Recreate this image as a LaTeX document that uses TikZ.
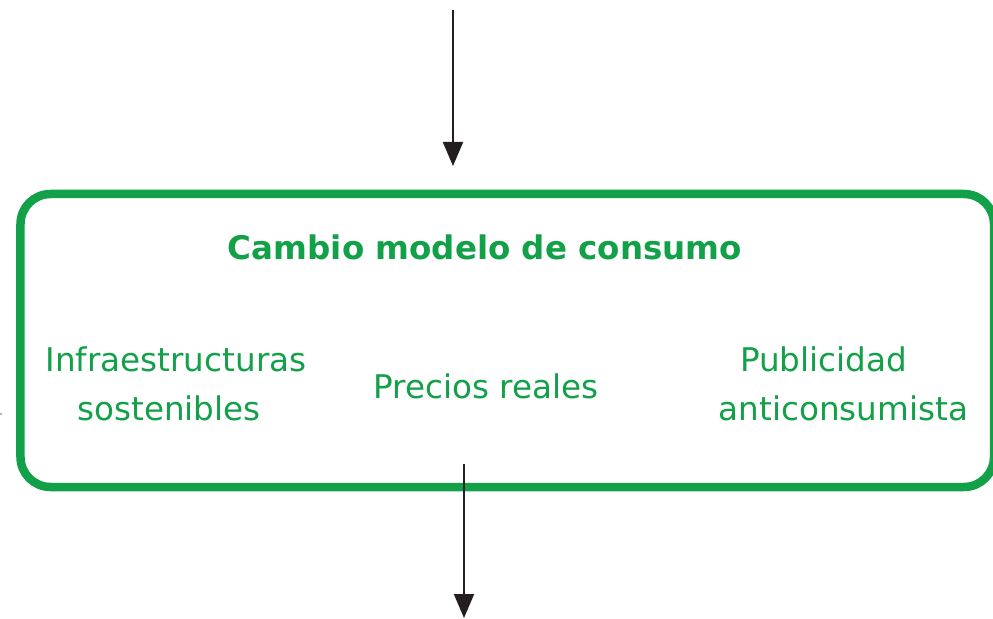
\documentclass[tikz,border=0pt]{standalone}
\usepackage{fontspec}
\setmainfont{DejaVu Sans}
\usetikzlibrary{arrows.meta}
\definecolor{boxgreen}{RGB}{18,160,72}
\definecolor{arrowdark}{RGB}{35,31,32}
\tikzset{
  framebox/.style={draw=boxgreen, line width=8.5bp, rounded corners=30bp, inner sep=0pt, minimum width=973.5bp, minimum height=293bp},
  titletext/.style={text=boxgreen, inner sep=0pt, anchor=base, font=\fontsize{32.5bp}{40bp}\selectfont\bfseries},
  itemtext/.style={text=boxgreen, inner sep=0pt, anchor=base, font=\fontsize{32.6bp}{40bp}\selectfont},
  flowarrow/.style={draw=arrowdark, line width=2bp, -{Triangle[width=20bp,length=24bp]}}
}
\begin{document}
\begin{tikzpicture}[x=1bp,y=-1bp]
\useasboundingbox (0,0) rectangle (993,619);
\fill[white] (0,0) rectangle (993,619);
\node[framebox] (box) at (507.25,340.5) {};
\node[titletext] (title) at (485,260) {Cambio modelo de consumo};
\node[itemtext] (infra1) at (176,371) {Infraestructuras};
\node[itemtext] (infra2) at (169,420) {sostenibles};
\node[itemtext] (precios) at (486,398) {Precios reales};
\node[itemtext] (publi1) at (823.5,371) {Publicidad};
\node[itemtext] (publi2) at (843.5,420) {anticonsumista};
\coordinate (topstart) at (453,10);
\coordinate (topend) at (453,166);
\coordinate (botstart) at (464,464);
\coordinate (botend) at (464,618);
\draw[flowarrow] (topstart) -- (topend);
\draw[flowarrow] (botstart) -- (botend);
\coordinate (tickA) at (0,414);
\coordinate (tickB) at (2,414);
\draw[gray!60, line width=1.2bp] (tickA) -- (tickB);
\end{tikzpicture}
\end{document}
